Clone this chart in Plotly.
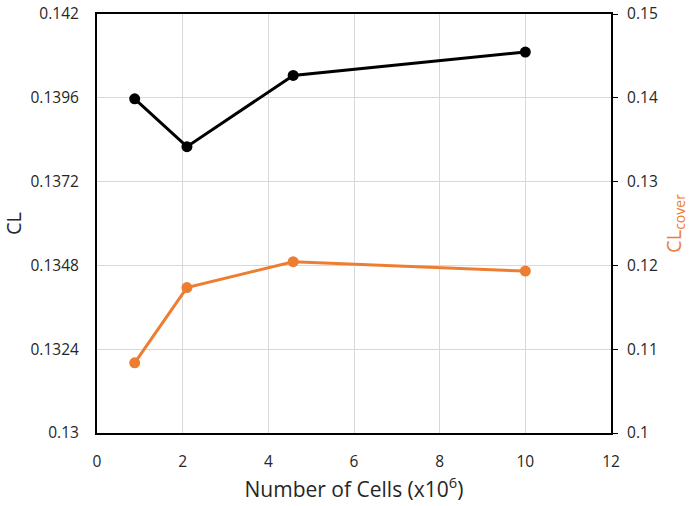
import plotly.graph_objects as go

# Mesh-independence study: lift coefficient vs. mesh size
cells_millions = [0.88, 2.1, 4.58, 10.0]
cl_total = [0.13957, 0.13820, 0.14024, 0.14091]
cl_cover = [0.10837, 0.11735, 0.12044, 0.11932]

left_ticks = [0.13, 0.1324, 0.1348, 0.1372, 0.1396, 0.142]
left_labels = ["0.13", "0.1324", "0.1348", "0.1372", "0.1396", "0.142"]
right_ticks = [0.1, 0.11, 0.12, 0.13, 0.14, 0.15]
right_labels = ["0.1", "0.11", "0.12", "0.13", "0.14", "0.15"]
x_ticks = [0, 2, 4, 6, 8, 10, 12]

BLACK = "#000000"
ORANGE = "#ED7D31"
GRID = "#D9D9D9"
TEXT = "#262626"
FONT = "Open Sans"

fig = go.Figure()
fig.add_trace(go.Scatter(
    x=cells_millions, y=cl_total, mode="lines+markers", name="CL",
    line=dict(color=BLACK, width=3), marker=dict(color=BLACK, size=11),
    yaxis="y",
))
fig.add_trace(go.Scatter(
    x=cells_millions, y=cl_cover, mode="lines+markers", name="CL cover",
    line=dict(color=ORANGE, width=3), marker=dict(color=ORANGE, size=11),
    yaxis="y2",
))

fig.update_layout(
    width=693, height=506,
    margin=dict(l=97, r=82, t=14, b=73),
    paper_bgcolor="white", plot_bgcolor="white",
    showlegend=False,
    font=dict(family=FONT, color=TEXT, size=15.5),
    xaxis=dict(
        range=[0, 12], tickvals=x_ticks, ticktext=[str(v) for v in x_ticks],
        showgrid=True, gridcolor=GRID, gridwidth=1,
        showline=True, linecolor=BLACK, linewidth=2, mirror=True,
        ticks="", zeroline=False, automargin=False, ticklabelstandoff=13,
        title=dict(text="Number of Cells (x10<sup>6</sup>)",
                   font=dict(family=FONT, size=21, color=TEXT), standoff=12),
    ),
    yaxis=dict(
        range=[0.13, 0.142], tickvals=left_ticks, ticktext=left_labels,
        showgrid=True, gridcolor=GRID, gridwidth=1,
        showline=True, linecolor=BLACK, linewidth=2,
        ticks="", zeroline=False, automargin=False, ticklabelstandoff=13,
        title=dict(text="CL", font=dict(family=FONT, size=20, color=TEXT),
                   standoff=10),
    ),
    yaxis2=dict(
        range=[0.1, 0.15], tickvals=right_ticks, ticktext=right_labels,
        overlaying="y", side="right", showgrid=False,
        showline=True, linecolor=BLACK, linewidth=2,
        ticks="outside", ticklen=5, tickcolor=BLACK, tickwidth=1,
        zeroline=False, automargin=False, ticklabelstandoff=6,
        title=dict(text="CL<sub>cover</sub>",
                   font=dict(family=FONT, size=20, color=ORANGE), standoff=10),
    ),
)

fig.write_html("out.html")
